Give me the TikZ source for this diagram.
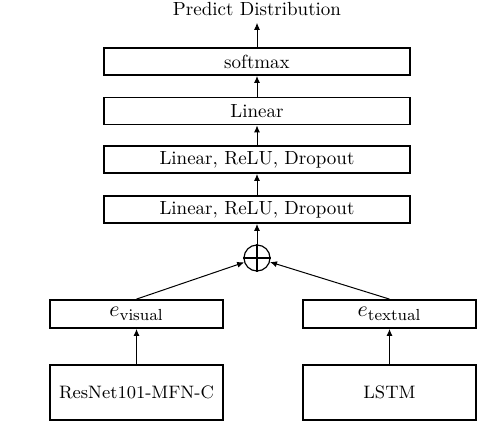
\documentclass[tikz,border=0pt]{standalone}
\usetikzlibrary{arrows.meta}
\begin{document}
\begin{tikzpicture}[x=0.5pt,y=-0.5pt,
    font=\fontsize{9.5pt}{11pt}\selectfont,
    layer/.style={draw,line width=0.9pt,inner sep=0pt,minimum width=153pt,minimum height=13.5pt},
    embed/.style={draw,line width=0.9pt,inner sep=0pt,minimum width=86.5pt,minimum height=14pt,font=\fontsize{11pt}{12pt}\selectfont},
    encoder/.style={draw,line width=0.9pt,inner sep=0pt,minimum width=86.5pt,minimum height=27.5pt,font=\fontsize{9pt}{11pt}\selectfont},
    fuse/.style={draw,line width=0.6pt,circle,inner sep=0pt,minimum size=13pt}]
  \useasboundingbox (0,0) rectangle (497,434);
  \draw
    (257,9) node (pred){Predict Distribution}
    (257,61.5) node[layer] (softmax){softmax}
    (257,111) node[layer] (linear){Linear}
    (257,159.5) node[layer] (lrd1){Linear, ReLU, Dropout}
    (257,209.5) node[layer] (lrd2){Linear, ReLU, Dropout}
    (257,258) node[fuse] (plus){}
    (136.5,314) node[embed] (evis){$e_{\mathrm{visual}}$}
    (389.5,314) node[embed] (etext){$e_{\mathrm{textual}}$}
    (136.5,392.5) node[encoder] (resnet){ResNet101-MFN-C}
    (389.5,392.5) node[encoder] (lstm){LSTM};
  \draw[line width=0.6pt] (plus.north) -- (plus.south) (plus.west) -- (plus.east);
  \begin{scope}[-{Latex[length=3.5pt,width=3pt]},line width=0.5pt]
    \draw (resnet) -- (evis);
    \draw (lstm) -- (etext);
    \draw (evis.north) -- (plus);
    \draw (etext.north) -- (plus);
    \draw (plus) -- (lrd2);
    \draw (lrd2) -- (lrd1);
    \draw (lrd1) -- (linear);
    \draw (linear) -- (softmax);
    \draw (softmax) -- (pred);
  \end{scope}
\end{tikzpicture}
\end{document}
